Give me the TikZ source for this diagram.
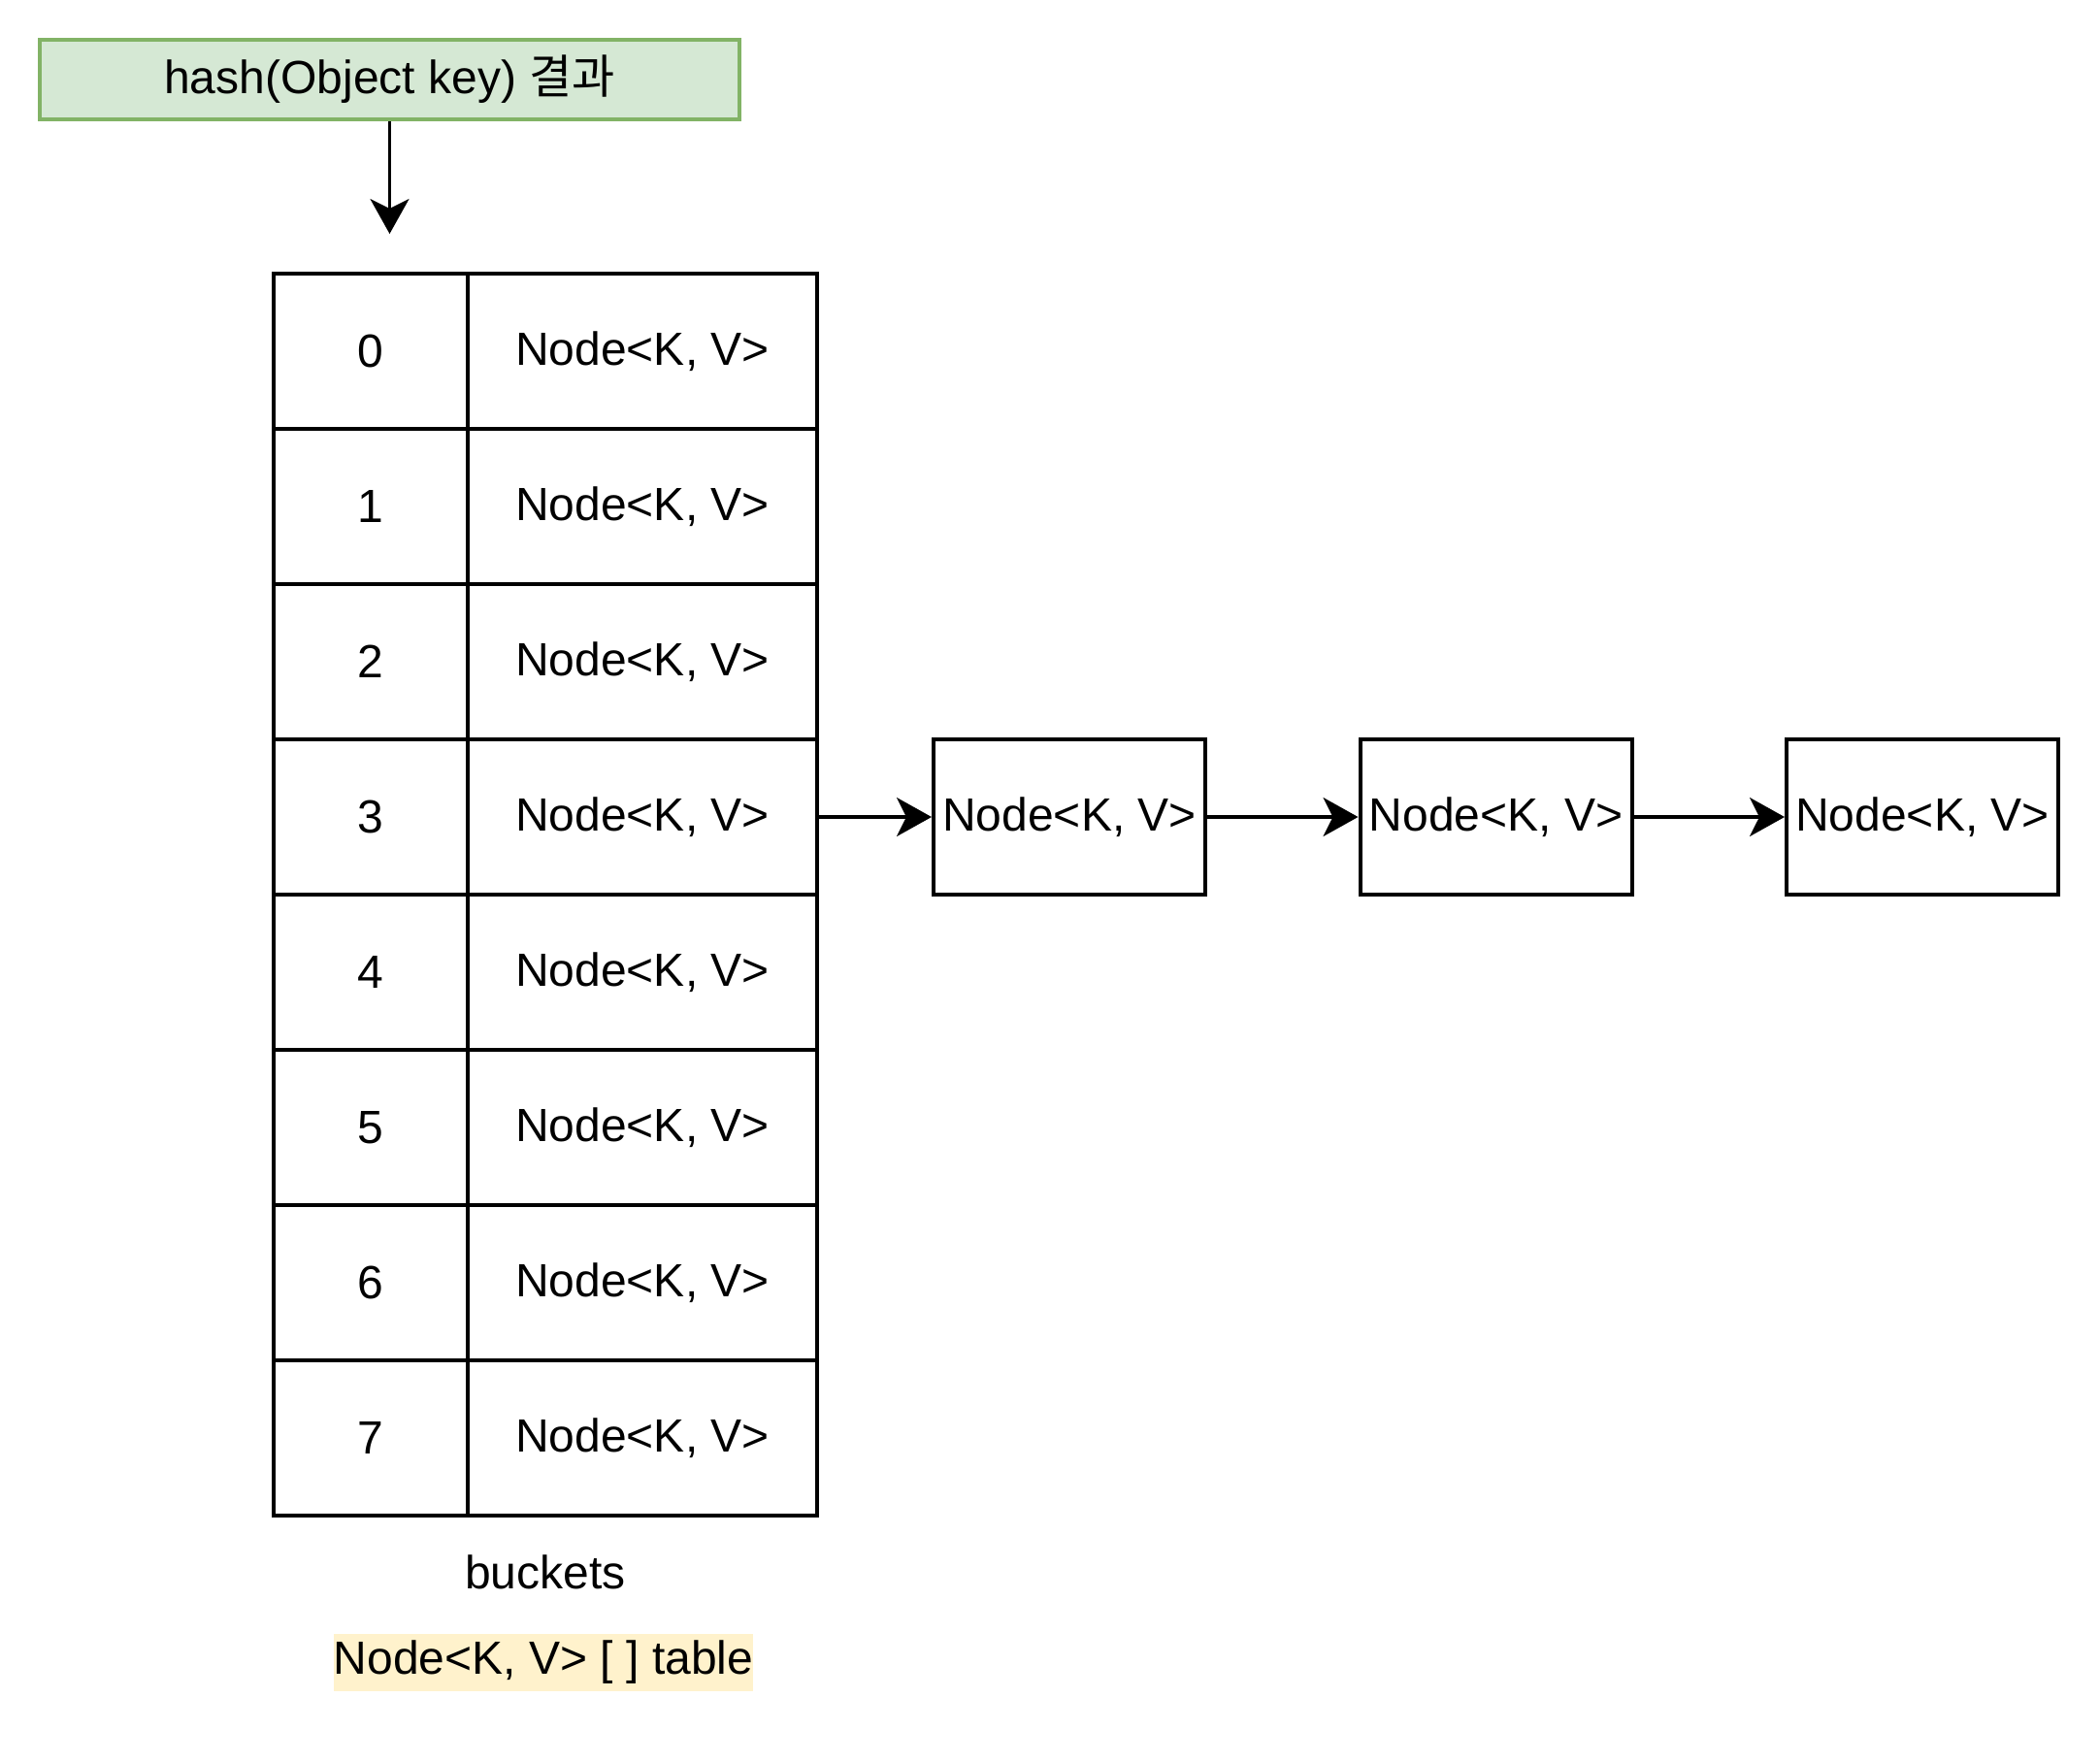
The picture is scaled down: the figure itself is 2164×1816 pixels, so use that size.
\documentclass[tikz,border=0pt]{standalone}
\usepackage{fontspec}
\setmainfont{Liberation Sans}
\newfontfamily\krfont{Noto Sans CJK KR}
\usepackage{xcolor}
\usepackage{tikz}
\usetikzlibrary{positioning,arrows.meta}
\definecolor{HashGreen}{HTML}{D5E8D4}
\definecolor{HashBorder}{HTML}{82B366}
\definecolor{NoteYellow}{HTML}{FFF2CC}

\begin{document}
\begin{tikzpicture}[x=0.5pt,y=-0.5pt,
          every node/.style={font=\fontsize{24}{28}\selectfont},
          cell/.style={draw,line width=2pt,minimum height=80pt,inner sep=0pt},
          ar/.style={-{Stealth[length=18pt,width=20pt,inset=5pt]},line width=1.6pt}]
        \useasboundingbox (0,0) rectangle (2164,1816);
        \node[draw=HashBorder, fill=HashGreen, line width=2pt,
          minimum width=360.5pt, minimum height=41pt, inner sep=0pt]
        (hash) at (401.5,82)
        {hash(Object key) {\krfont 결과}};
        \coordinate (hit) at (401.5,241);
        \draw[ar](hash)--(hit);
        % buckets
        \foreach \i in {0,...,7}{
          \node[cell, minimum width=100pt] (idx\i) at (382,{362+160*\i}) {\i};
          \node[cell, minimum width=180pt] (val\i) at (662,{362+160*\i}) {Node<K, V>};
        }
        \node (buckets) at (562,1620) {buckets};
        \node[fill=NoteYellow, inner xsep=0pt, minimum height=29.5pt]
        (tbl) at (560,1713) {Node<K, V> [ ] table};
        % chain
        \node[cell, minimum width=140pt] (next1) at (1102,842) {Node<K, V>};
        \node[cell, minimum width=140pt] (next2) at (1541.5,842) {Node<K, V>};
        \node[cell, minimum width=140pt] (next3) at (1981,842) {Node<K, V>};
        \draw[ar](val3)--(next1); \draw[ar](next1)--(next2); \draw[ar](next2)--(next3);
      \end{tikzpicture}
\end{document}
